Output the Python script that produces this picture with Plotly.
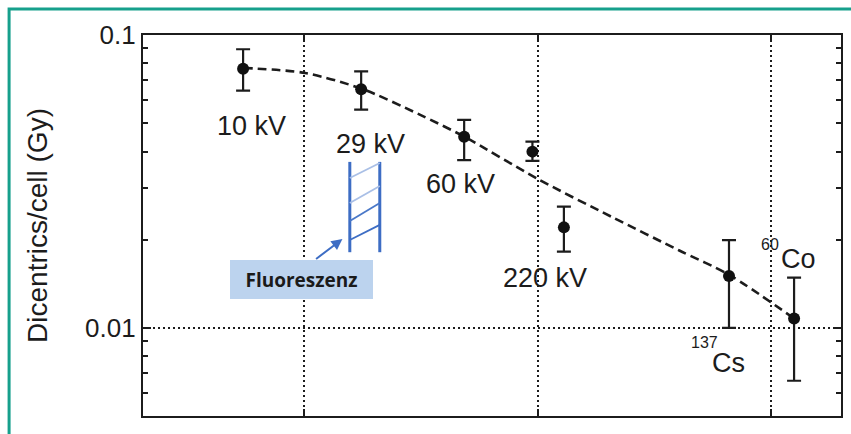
import numpy as np
import plotly.graph_objects as go

# ---------------- data ----------------
# photon energy (keV, log axis without labels) and dicentrics per cell per Gy
point_energy = [5.48, 17.56, 48.5, 95.1, 129.7, 661, 1256]
point_yield = [0.0767, 0.0653, 0.0450, 0.0400, 0.02206, 0.01505, 0.01079]
err_plus = [0.0127, 0.0099, 0.0063, 0.0033, 0.00389, 0.00492, 0.00407]
err_minus = [0.0121, 0.0097, 0.0076, 0.0028, 0.00384, 0.00503, 0.00418]

fit_energy = [5.49, 10.1, 17.7, 31.3, 48.8, 100, 209, 405, 662, 1253]
fit_yield = [0.0772, 0.0742, 0.0655, 0.0535, 0.0449, 0.0323, 0.0239, 0.01839, 0.0152, 0.0108]

# labels (text, energy, yield, font size)
labels = [
    ("10 kV", 5.94, 0.0489, 27),
    ("29 kV", 19.2, 0.04246, 27),
    ("60 kV", 46.9, 0.03101, 27),
    ("220 kV", 107.2, 0.01483, 27),
    ("Co", 1311, 0.01727, 27),
    ("Cs", 655, 0.00762, 27),
]
sup_labels = [
    ("60", 991, 0.01935, 16),
    ("137", 517, 0.00892, 16),
]

# fluorescence band (hatched marker)
band_energy = [15.7, 21.1]
band_yield = [0.01815, 0.0369]
hatch_left = [0.0325, 0.02673, 0.02318, 0.01997]
hatch_right = [0.03656, 0.03055, 0.02673, 0.0225]
hatch_colors = ["#a9bfe6", "#a9bfe6", "#4a78c8", "#3d6dc4"]
fluo_label = ("Fluoreszenz", 9.71, 0.01464)
arrow_tail = (11.09, 0.01706)
arrow_head = (14.6, 0.02014)

x_grid = [10, 100, 1000]
y_major = [0.01, 0.1]
y_major_text = ["0.01", "0.1"]
y_minor = [0.005, 0.006, 0.007, 0.008, 0.009,
           0.02, 0.03, 0.04, 0.05, 0.06, 0.07, 0.08, 0.09]

INK = "#1c1c1c"
BLUE = "#3d6dc4"
TEAL = "#16a08c"
FONT = "Liberation Sans, Arial, sans-serif"

fig = go.Figure()

# dashed fit curve
fig.add_trace(go.Scatter(
    x=fit_energy, y=fit_yield, mode="lines",
    line=dict(color=INK, width=2.6, dash="9px,5px", shape="spline", smoothing=0.8),
    hoverinfo="skip", showlegend=False))

# data points with error bars
fig.add_trace(go.Scatter(
    x=point_energy, y=point_yield, mode="markers",
    marker=dict(color="#111111", size=12),
    error_y=dict(type="data", array=err_plus, arrayminus=err_minus,
                 color=INK, thickness=2.2, width=7),
    showlegend=False))

# fluorescence band: two vertical lines and diagonal hatching
for e in band_energy:
    fig.add_trace(go.Scatter(x=[e, e], y=band_yield, mode="lines",
                             line=dict(color=BLUE, width=3),
                             hoverinfo="skip", showlegend=False))
for yl, yr, c in zip(hatch_left, hatch_right, hatch_colors):
    fig.add_trace(go.Scatter(x=band_energy, y=[yl, yr], mode="lines",
                             line=dict(color=c, width=1.8),
                             hoverinfo="skip", showlegend=False))

annotations = []
for t, e, d, s in labels + sup_labels:
    annotations.append(dict(x=np.log10(e), y=np.log10(d), xref="x", yref="y",
                            text=t, showarrow=False,
                            font=dict(family=FONT, size=s, color=INK)))
# Fluoreszenz box
annotations.append(dict(x=np.log10(fluo_label[1]), y=np.log10(fluo_label[2]),
                        xref="x", yref="y", text="<b>" + fluo_label[0] + "</b>",
                        showarrow=False, width=143, height=39, bgcolor="#bcd3ee",
                        borderpad=0, borderwidth=0,
                        font=dict(family="Open Sans, sans-serif", size=19, color="#1a1a1a")))
# arrow
annotations.append(dict(x=np.log10(arrow_head[0]), y=np.log10(arrow_head[1]),
                        ax=np.log10(arrow_tail[0]), ay=np.log10(arrow_tail[1]),
                        xref="x", yref="y", axref="x", ayref="y", text="",
                        showarrow=True, arrowhead=2, arrowsize=1.1, arrowwidth=2,
                        arrowcolor=BLUE))

fig.update_layout(
    width=851, height=434,
    margin=dict(l=143, r=8, t=35, b=18),
    paper_bgcolor="white", plot_bgcolor="white",
    showlegend=False,
    font=dict(family=FONT, color=INK),
    annotations=annotations,
    shapes=[dict(type="rect", xref="paper", yref="paper",
                 x0=(8.7 - 143) / 700, x1=1.6, y0=-0.6, y1=(416 - 9) / 381,
                 line=dict(color=TEAL, width=3), fillcolor="rgba(0,0,0,0)",
                 layer="above")],
)

fig.update_xaxes(
    type="log", range=[0.310, 3.300],
    tickvals=x_grid, showticklabels=False,
    ticks="inside", ticklen=7, tickwidth=2, tickcolor=INK,
    showgrid=True, gridcolor=INK, gridwidth=1.8, griddash="2px,3px",
    showline=True, linewidth=2.2, linecolor=INK, mirror="allticks",
    zeroline=False,
)
fig.update_yaxes(
    type="log", range=[-2.300, -1.0],
    tickvals=y_major, ticktext=y_major_text,
    ticks="inside", ticklen=8, tickwidth=2, tickcolor=INK,
    tickfont=dict(family=FONT, size=26, color=INK),
    minor=dict(tickvals=y_minor, ticks="inside", ticklen=5, tickwidth=1.6,
               tickcolor=INK, showgrid=False),
    showgrid=True, gridcolor=INK, gridwidth=1.8, griddash="2px,3px",
    showline=True, linewidth=2.2, linecolor=INK, mirror="allticks",
    zeroline=False,
    title=dict(text="Dicentrics/cell (Gy)", standoff=29,
               font=dict(family=FONT, size=28, color=INK)),
)

fig.write_html("out.html", config={"displayModeBar": False},
               post_script="document.body.style.margin='0';document.body.style.padding='0';")
